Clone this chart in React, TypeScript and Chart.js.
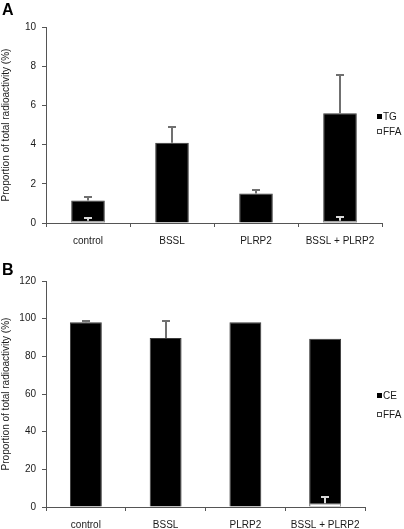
import React, { useEffect, useRef } from "react";
import { Chart, registerables } from "chart.js";

Chart.register(...registerables);

const categories = ["control", "BSSL", "PLRP2", "BSSL + PLRP2"];

// Panel A
const tgValues = [1.15, 4.1, 1.5, 5.6];
const tgErrors = [0.2, 0.8, 0.17, 1.95];
const ffaValuesA = [0.12, 0, 0, 0.12];
const ffaErrorsA = [0.15, 0, 0, 0.2];
const yTicksA = [0, 2, 4, 6, 8, 10];

// Panel B
const ceValues = [98.1, 89.8, 98.1, 89.3];
const ceErrors = [0.4, 9.0, 0, 0];
const ffaValuesB = [0, 0, 0, 2.0];
const ffaErrorsB = [0, 0, 0, 3.2];
const yTicksB = [0, 20, 40, 60, 80, 100, 120];

const yTitle = "Proportion of total radioactivity (%)";
const FONT = "Arial, 'Liberation Sans', sans-serif";
const TEXT = "#1a1a1a";
const AXIS = "#555555";

const errorBarPlugin = {
  id: "errorBars",
  afterDatasetsDraw(chart: any) {
    const ctx = chart.ctx;
    const ys = chart.scales.y;
    chart.data.datasets.forEach((ds: any, i: number) => {
      const errs = ds.errors || [];
      const meta = chart.getDatasetMeta(i);
      meta.data.forEach((bar: any, j: number) => {
        const e = errs[j];
        if (!e) return;
        const v = ds.data[j];
        const x = Math.round(bar.x);
        const y0 = ys.getPixelForValue(v);
        const y1 = Math.round(ys.getPixelForValue(v + e));
        ctx.save();
        ctx.strokeStyle = ds.errorColor;
        ctx.lineWidth = 2;
        ctx.beginPath();
        ctx.moveTo(x, y0);
        ctx.lineTo(x, y1);
        ctx.moveTo(x - 4, y1);
        ctx.lineTo(x + 4, y1);
        ctx.stroke();
        ctx.restore();
      });
    });
  },
};

const sideLegendPlugin = {
  id: "sideLegend",
  afterDraw(chart: any, _args: any, opts: any) {
    if (!opts || !opts.items) return;
    const ctx = chart.ctx;
    ctx.save();
    ctx.font = `10px ${FONT}`;
    ctx.textBaseline = "middle";
    opts.items.forEach((it: any, i: number) => {
      const cy = opts.y + i * opts.gap;
      ctx.fillStyle = it.fill;
      ctx.fillRect(opts.x, cy - 3, 5, 5);
      ctx.strokeStyle = it.stroke;
      ctx.lineWidth = 1;
      ctx.strokeRect(opts.x + 0.5, cy - 2.5, 4, 4);
      ctx.fillStyle = TEXT;
      ctx.fillText(it.label, opts.x + 6, cy);
    });
    ctx.restore();
  },
};

type PanelProps = {
  height: number;
  padTop: number;
  padRight: number;
  xHeight: number;
  mainLabel: string;
  mainValues: number[];
  mainErrors: number[];
  ffaValues: number[];
  ffaErrors: number[];
  yTicks: number[];
  legendY: number;
  legendGap: number;
};

function Panel(p: PanelProps) {
  const ref = useRef<HTMLCanvasElement | null>(null);
  useEffect(() => {
    if (!ref.current) return;
    const step = p.yTicks[1] - p.yTicks[0];
    const chart = new Chart(ref.current, {
      type: "bar",
      data: {
        labels: categories,
        datasets: [
          {
            label: p.mainLabel,
            data: p.mainValues,
            backgroundColor: "#000000",
            borderColor: "#3a3a3a",
            borderWidth: 1,
            grouped: false,
            order: 1,
            barPercentage: 0.4,
            categoryPercentage: 1,
            errors: p.mainErrors,
            errorColor: "#707070",
          } as any,
          {
            label: "FFA",
            data: p.ffaValues,
            backgroundColor: "#ffffff",
            borderColor: "#9a9a9a",
            borderWidth: 1,
            grouped: false,
            order: 0,
            barPercentage: 0.4,
            categoryPercentage: 1,
            errors: p.ffaErrors,
            errorColor: "#d8d8d8",
          } as any,
        ],
      },
      options: {
        responsive: false,
        animation: false,
        layout: { padding: { top: p.padTop, right: p.padRight, bottom: 0, left: 0 } },
        plugins: {
          legend: { display: false },
          tooltip: { enabled: false },
          sideLegend: {
            x: 377,
            y: p.legendY,
            gap: p.legendGap,
            items: [
              { label: p.mainLabel, fill: "#000000", stroke: "#000000" },
              { label: "FFA", fill: "#ffffff", stroke: "#444444" },
            ],
          },
        } as any,
        scales: {
          x: {
            type: "category",
            offset: true,
            grid: {
              display: true,
              drawOnChartArea: false,
              offset: true,
              tickLength: 4,
              color: AXIS,
              lineWidth: 1,
            },
            border: { display: true, color: AXIS, width: 1 },
            ticks: {
              color: TEXT,
              font: { family: FONT, size: 10 },
              padding: 8,
              maxRotation: 0,
              autoSkip: false,
            },
            afterFit: (s: any) => {
              s.height = p.xHeight;
            },
          },
          y: {
            min: p.yTicks[0],
            max: p.yTicks[p.yTicks.length - 1],
            grid: { drawOnChartArea: false, tickLength: 4, color: AXIS, lineWidth: 1 },
            border: { display: true, color: AXIS, width: 1 },
            ticks: {
              stepSize: step,
              padding: 6,
              color: TEXT,
              font: { family: FONT, size: 10 },
            },
            title: {
              display: true,
              text: yTitle,
              color: TEXT,
              font: { family: FONT, size: 10 },
              padding: { top: 0, bottom: 0 },
            },
            afterFit: (s: any) => {
              s.width = 46;
            },
          },
        },
      } as any,
      plugins: [errorBarPlugin, sideLegendPlugin],
    });
    return () => chart.destroy();
  }, []);
  return <canvas ref={ref} width={404} height={p.height} style={{ display: "block" }} />;
}

const letterStyle: React.CSSProperties = {
  position: "absolute",
  left: 2,
  fontFamily: FONT,
  fontWeight: "bold",
  fontSize: 16,
  lineHeight: "16px",
  color: "#000",
};

export default function App() {
  return (
    <div
      style={{
        position: "absolute",
        left: 0,
        top: 0,
        width: 404,
        height: 529,
        background: "#ffffff",
        overflow: "hidden",
      }}
    >
      <div style={{ position: "absolute", left: 0, top: 0 }}>
        <Panel
          height={258}
          padTop={27}
          padRight={22}
          xHeight={35}
          mainLabel="TG"
          mainValues={tgValues}
          mainErrors={tgErrors}
          ffaValues={ffaValuesA}
          ffaErrors={ffaErrorsA}
          yTicks={yTicksA}
          legendY={117}
          legendGap={15}
        />
      </div>
      <div style={{ position: "absolute", left: 0, top: 258 }}>
        <Panel
          height={271}
          padTop={23}
          padRight={39}
          xHeight={22}
          mainLabel="CE"
          mainValues={ceValues}
          mainErrors={ceErrors}
          ffaValues={ffaValuesB}
          ffaErrors={ffaErrorsB}
          yTicks={yTicksB}
          legendY={138}
          legendGap={19}
        />
      </div>
      <div style={{ ...letterStyle, top: 2 }}>A</div>
      <div style={{ ...letterStyle, top: 262 }}>B</div>
    </div>
  );
}
